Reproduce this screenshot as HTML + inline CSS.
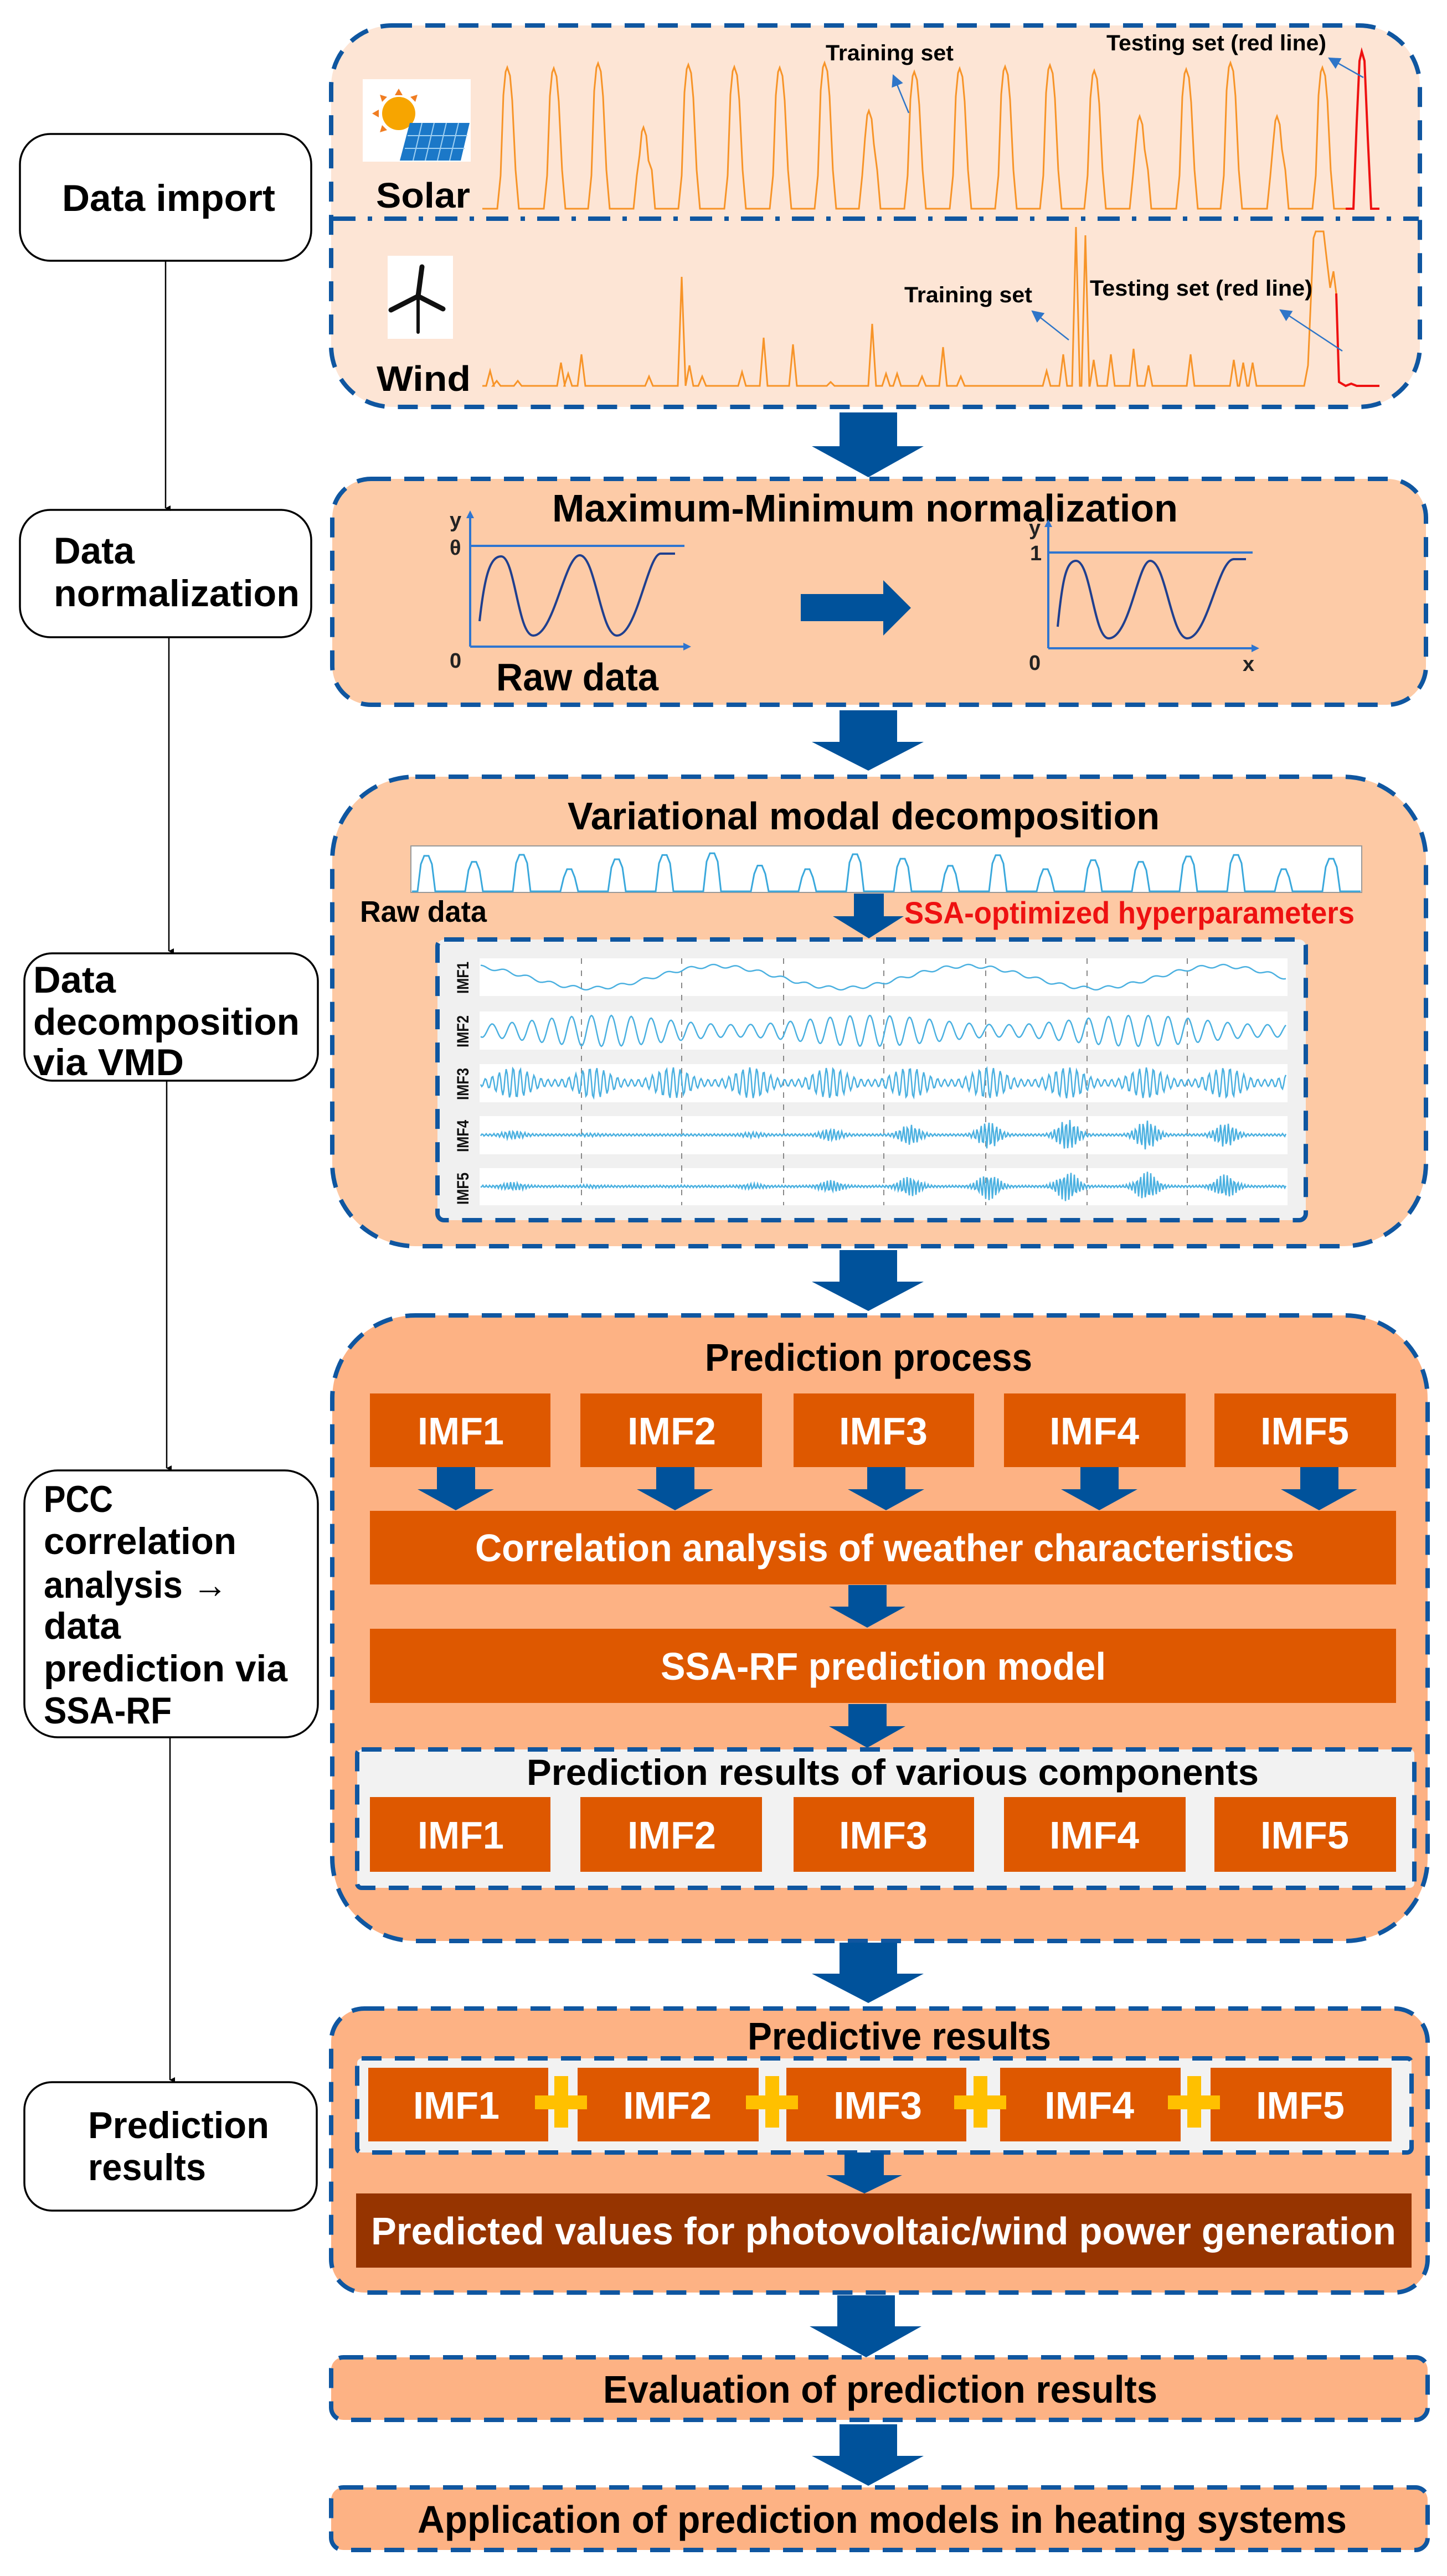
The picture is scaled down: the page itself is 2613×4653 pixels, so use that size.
<!DOCTYPE html>
<html><head><meta charset="utf-8">
<style>
html,body{margin:0;padding:0;background:#fff;}
svg{display:block;}
text{font-family:"Liberation Sans",Arial,sans-serif;font-weight:bold;}
</style></head>
<body>
<svg id="s" xmlns="http://www.w3.org/2000/svg" width="2613" height="4653" viewBox="0 0 2613 4653">
<defs>
<marker id="ah" markerWidth="10" markerHeight="10" refX="5" refY="9" orient="auto" markerUnits="userSpaceOnUse"><path d="M0,0 L10,0 L5,10 Z" fill="#000"/></marker>
<marker id="bh" viewBox="0 0 10 10" markerWidth="22" markerHeight="22" refX="9" refY="5" orient="auto" markerUnits="userSpaceOnUse"><path d="M0,0 L10,5 L0,10 Z" fill="#2e75c8"/></marker>
</defs>
<rect width="2613" height="4653" fill="#fff"/>

<!-- LEFT BOXES -->
<g fill="#fff" stroke="#000" stroke-width="3.5">
<rect x="36" y="242" width="526" height="229" rx="55"/>
<rect x="36" y="921" width="526" height="230" rx="55"/>
<rect x="44" y="1722" width="530" height="230" rx="50"/>
<rect x="44" y="2656" width="530" height="482" rx="60"/>
<rect x="44" y="3761" width="528" height="232" rx="50"/>
</g>
<g stroke="#000" stroke-width="2.5" fill="none" marker-end="url(#ah)">
<line x1="299" y1="471" x2="299" y2="918"/>
<line x1="305" y1="1151" x2="305" y2="1718"/>
<line x1="301" y1="1952" x2="301" y2="2652"/>
<line x1="307" y1="3138" x2="307" y2="3757"/>
</g>
<g font-size="68" fill="#000">
<text x="112" y="381" textLength="385" lengthAdjust="spacingAndGlyphs">Data import</text>
<text x="97" y="1018" textLength="146" lengthAdjust="spacingAndGlyphs">Data</text>
<text x="97" y="1095" textLength="444" lengthAdjust="spacingAndGlyphs">normalization</text>
<text x="60" y="1793" textLength="149" lengthAdjust="spacingAndGlyphs">Data</text>
<text x="60" y="1869" textLength="481" lengthAdjust="spacingAndGlyphs">decomposition</text>
<text x="60" y="1942" textLength="272" lengthAdjust="spacingAndGlyphs">via VMD</text>
<text x="79" y="2731" textLength="125" lengthAdjust="spacingAndGlyphs">PCC</text>
<text x="79" y="2807" textLength="348" lengthAdjust="spacingAndGlyphs">correlation</text>
<text x="79" y="2886" textLength="332" lengthAdjust="spacingAndGlyphs">analysis →</text>
<text x="79" y="2960" textLength="139" lengthAdjust="spacingAndGlyphs">data</text>
<text x="79" y="3037" textLength="440" lengthAdjust="spacingAndGlyphs">prediction via</text>
<text x="79" y="3113" textLength="231" lengthAdjust="spacingAndGlyphs">SSA-RF</text>
<text x="159" y="3862" textLength="327" lengthAdjust="spacingAndGlyphs">Prediction</text>
<text x="159" y="3938" textLength="213" lengthAdjust="spacingAndGlyphs">results</text>
</g>

<!-- BIG CONTAINER BOXES -->
<g stroke="#0f56a0" stroke-width="8" stroke-dasharray="36,24">
<rect x="598" y="46" width="1966" height="689" rx="110" fill="#fde5d5"/>
<rect x="600" y="865" width="1975" height="408" rx="70" fill="#fdcba7"/>
<rect x="600" y="1403" width="1975" height="848" rx="150" fill="#fdc9a4"/>
<rect x="600" y="2376" width="1978" height="1130" rx="150" fill="#fdb284"/>
<rect x="598" y="3628" width="1980" height="513" rx="60" fill="#fdb284"/>
<rect x="598" y="4258" width="1980" height="113" rx="22" fill="#fdb284"/>
<rect x="598" y="4493" width="1980" height="113" rx="22" fill="#fdb284"/>
</g>
<line x1="602" y1="395" x2="2562" y2="395" stroke="#0f56a0" stroke-width="8" stroke-dasharray="40,22,8,22"/>

<!-- BIG ARROWS -->
<g fill="#00529b">
<path d="M1516,745 H1620 V806 H1668 L1568,862 L1466,806 H1516 Z"/>
<path d="M1516,1283 H1620 V1340 H1668 L1568,1392 L1466,1340 H1516 Z"/>
<path d="M1516,2258 H1620 V2315 H1668 L1568,2368 L1466,2315 H1516 Z"/>
<path d="M1516,3509 H1620 V3565 H1668 L1568,3618 L1466,3565 H1516 Z"/>
<path d="M1512,4146 H1616 V4202 H1664 L1564,4258 L1462,4202 H1512 Z"/>
<path d="M1516,4379 H1620 V4436 H1668 L1568,4490 L1466,4436 H1516 Z"/>
</g>

<!-- BOX 1 content -->
<rect x="655" y="143" width="195" height="149" fill="#fff"/>
<g>
<g stroke="#f08020" stroke-width="7" stroke-linecap="round">
<line x1="720" y1="120" x2="720" y2="0" transform="translate(0,0)" opacity="0"/>
</g>
<circle cx="720" cy="205" r="30" fill="#f7a500"/>
<g fill="#f07d22">
<path d="M720,160 l-7,12 h14z"/><path d="M672,205 l12,-7 v14z"/><path d="M686,171 l13,4 l-9,9z"/><path d="M754,171 l-13,4 l9,9z"/><path d="M686,239 l13,-4 l-9,-9z"/>
</g>
<path d="M740,222 L848,222 L832,290 L722,290 Z" fill="#1b78c8"/>
<g stroke="#9fd0f2" stroke-width="2">
<line x1="736" y1="245" x2="844" y2="245"/><line x1="731" y1="268" x2="839" y2="268"/>
<line x1="762" y1="222" x2="746" y2="290"/><line x1="784" y1="222" x2="768" y2="290"/><line x1="806" y1="222" x2="790" y2="290"/><line x1="828" y1="222" x2="812" y2="290"/>
</g>
</g>
<rect x="700" y="462" width="118" height="150" fill="#fff"/>
<g stroke="#111" stroke-linecap="round" fill="none">
<line x1="755" y1="535" x2="755" y2="600" stroke-width="6"/>
<path d="M755,535 L762,482" stroke-width="9"/>
<path d="M755,535 L706,560" stroke-width="9"/>
<path d="M755,535 L800,558" stroke-width="9"/>
</g>
<text x="679" y="375" font-size="64" textLength="170" lengthAdjust="spacingAndGlyphs">Solar</text>
<text x="680" y="706" font-size="64" textLength="170" lengthAdjust="spacingAndGlyphs">Wind</text>
<path id="solar" fill="none" stroke="#f79428" stroke-width="3"/>
<path id="solarR" fill="none" stroke="#ee1111" stroke-width="4"/>
<path id="wind" fill="none" stroke="#f79428" stroke-width="3"/>
<path id="windR" fill="none" stroke="#ee1111" stroke-width="4"/>
<g font-size="40" fill="#000">
<text x="1491" y="109" textLength="231" lengthAdjust="spacingAndGlyphs">Training set</text>
<text x="1998" y="91" textLength="397" lengthAdjust="spacingAndGlyphs">Testing set (red line)</text>
<text x="1633" y="546" textLength="231" lengthAdjust="spacingAndGlyphs">Training set</text>
<text x="1968" y="534" textLength="402" lengthAdjust="spacingAndGlyphs">Testing set (red line)</text>
</g>
<g stroke="#2e75c8" stroke-width="2.5" marker-end="url(#bh)">
<line x1="1641" y1="204" x2="1613" y2="136"/>
<line x1="2462" y1="140" x2="2400" y2="105"/>
<line x1="1930" y1="614" x2="1864" y2="562"/>
<line x1="2424" y1="634" x2="2312" y2="560"/>
</g>

<!-- BOX 2 content -->
<text x="997" y="942" font-size="70" textLength="1130" lengthAdjust="spacingAndGlyphs">Maximum-Minimum normalization</text>
<g stroke="#2e75d0" stroke-width="4" fill="none">
<line x1="849" y1="1168" x2="849" y2="934"/><line x1="849" y1="1168" x2="1236" y2="1168"/>
<line x1="849" y1="986" x2="1236" y2="986"/>
<line x1="1893" y1="1171" x2="1893" y2="950"/><line x1="1893" y1="1171" x2="2262" y2="1171"/>
<line x1="1893" y1="998" x2="2262" y2="998"/>
</g>
<g fill="#2e75d0"><path d="M842,936 L849,922 L856,936Z"/><path d="M1234,1161 L1248,1168 L1234,1175Z"/><path d="M1886,952 L1893,938 L1900,952Z"/><path d="M2260,1164 L2274,1171 L2260,1178Z"/></g>
<g stroke="#1f3f8f" stroke-width="4" fill="none">
<path d="M866,1122 C875,1040 885,1005 905,1005 C930,1005 935,1148 963,1148 C1000,1148 1020,1003 1047,1003 C1075,1003 1085,1148 1114,1148 C1150,1148 1170,1000 1193,1000 L1219,1000"/>
<path d="M1910,1132 C1918,1050 1925,1013 1943,1013 C1970,1013 1975,1153 2002,1153 C2040,1153 2055,1013 2077,1013 C2105,1013 2115,1153 2144,1153 C2180,1153 2200,1010 2228,1010 L2250,1010"/>
</g>
<g font-size="38" fill="#222">
<text x="812" y="952">y</text><text x="812" y="1002">θ</text><text x="812" y="1206">0</text>
<text x="1858" y="966">y</text><text x="1860" y="1012">1</text><text x="1858" y="1210">0</text><text x="2244" y="1212">x</text>
</g>
<text x="896" y="1247" font-size="70" textLength="293" lengthAdjust="spacingAndGlyphs">Raw data</text>
<path d="M1446,1073 H1595 V1048 L1645,1098 L1595,1148 V1122 H1446 Z" fill="#00529b"/>

<!-- BOX 3 content -->
<text x="1025" y="1498" font-size="70" textLength="1069" lengthAdjust="spacingAndGlyphs">Variational modal decomposition</text>
<rect x="742" y="1528" width="1717" height="84" fill="#fff" stroke="#999" stroke-width="2"/>
<path id="raw" fill="none" stroke="#3aa8dc" stroke-width="3"/>
<text x="650" y="1665" font-size="54" textLength="229" lengthAdjust="spacingAndGlyphs">Raw data</text>
<text x="1633" y="1668" font-size="56" fill="#ee1111" textLength="813" lengthAdjust="spacingAndGlyphs">SSA-optimized hyperparameters</text>
<path d="M1542,1614 H1596 V1655 H1632 L1569,1695 L1504,1655 H1542 Z" fill="#00529b"/>
<rect x="790" y="1697" width="1568" height="507" rx="12" fill="#f0f0f0" stroke="#0f56a0" stroke-width="8" stroke-dasharray="36,24"/>
<g fill="#fff">
<rect x="866" y="1731" width="1459" height="68"/>
<rect x="866" y="1827" width="1459" height="69"/>
<rect x="866" y="1922" width="1459" height="69"/>
<rect x="866" y="2016" width="1459" height="69"/>
<rect x="866" y="2110" width="1459" height="67"/>
</g>
<g stroke="#888" stroke-width="2" stroke-dasharray="10,12" id="grid"></g>
<g font-size="30" fill="#111">
<text transform="translate(846,1795) rotate(-90)" textLength="58" lengthAdjust="spacingAndGlyphs">IMF1</text>
<text transform="translate(846,1892) rotate(-90)" textLength="58" lengthAdjust="spacingAndGlyphs">IMF2</text>
<text transform="translate(846,1987) rotate(-90)" textLength="58" lengthAdjust="spacingAndGlyphs">IMF3</text>
<text transform="translate(846,2081) rotate(-90)" textLength="58" lengthAdjust="spacingAndGlyphs">IMF4</text>
<text transform="translate(846,2176) rotate(-90)" textLength="58" lengthAdjust="spacingAndGlyphs">IMF5</text>
</g>
<g fill="none" stroke="#4ab0e0" stroke-width="2.5">
<path id="i1"/><path id="i2"/><path id="i3"/><path id="i4"/><path id="i5"/>
</g>

<!-- BOX 4 content -->
<text x="1273" y="2476" font-size="70" textLength="591" lengthAdjust="spacingAndGlyphs">Prediction process</text>
<g fill="#de5800">
<rect x="668" y="2517" width="326" height="133"/>
<rect x="1048" y="2517" width="328" height="133"/>
<rect x="1433" y="2517" width="326" height="133"/>
<rect x="1813" y="2517" width="328" height="133"/>
<rect x="2193" y="2517" width="328" height="133"/>
<rect x="668" y="2729" width="1853" height="133"/>
<rect x="668" y="2942" width="1853" height="134"/>
</g>
<g fill="#00529b">
<path d="M789,2650 H858 V2690 H892 L823,2728 L754,2690 H789 Z"/>
<path d="M1185,2650 H1254 V2690 H1288 L1219,2728 L1150,2690 H1185 Z"/>
<path d="M1566,2650 H1635 V2690 H1669 L1600,2728 L1531,2690 H1566 Z"/>
<path d="M1951,2650 H2020 V2690 H2054 L1985,2728 L1916,2690 H1951 Z"/>
<path d="M2348,2650 H2417 V2690 H2451 L2382,2728 L2313,2690 H2348 Z"/>
<path d="M1532,2863 H1601 V2902 H1635 L1566,2940 L1497,2902 H1532 Z"/>
<path d="M1532,3078 H1601 V3118 H1635 L1566,3157 L1497,3118 H1532 Z"/>
</g>
<g font-size="70" fill="#fff">
<text x="754" y="2609" textLength="156" lengthAdjust="spacingAndGlyphs">IMF1</text>
<text x="1133" y="2609" textLength="160" lengthAdjust="spacingAndGlyphs">IMF2</text>
<text x="1515" y="2609" textLength="160" lengthAdjust="spacingAndGlyphs">IMF3</text>
<text x="1895" y="2609" textLength="162" lengthAdjust="spacingAndGlyphs">IMF4</text>
<text x="2276" y="2609" textLength="160" lengthAdjust="spacingAndGlyphs">IMF5</text>
<text x="858" y="2820" textLength="1479" lengthAdjust="spacingAndGlyphs">Correlation analysis of weather characteristics</text>
<text x="1193" y="3034" textLength="804" lengthAdjust="spacingAndGlyphs">SSA-RF prediction model</text>
</g>
<rect x="645" y="3160" width="1909" height="250" rx="8" fill="#f2f2f2" stroke="#0f56a0" stroke-width="8" stroke-dasharray="36,24"/>
<text x="951" y="3224" font-size="66" textLength="1322" lengthAdjust="spacingAndGlyphs">Prediction results of various components</text>
<g fill="#de5800">
<rect x="668" y="3246" width="326" height="135"/>
<rect x="1048" y="3246" width="328" height="135"/>
<rect x="1433" y="3246" width="326" height="135"/>
<rect x="1813" y="3246" width="328" height="135"/>
<rect x="2193" y="3246" width="328" height="135"/>
</g>
<g font-size="70" fill="#fff">
<text x="754" y="3339" textLength="156" lengthAdjust="spacingAndGlyphs">IMF1</text>
<text x="1133" y="3339" textLength="160" lengthAdjust="spacingAndGlyphs">IMF2</text>
<text x="1515" y="3339" textLength="160" lengthAdjust="spacingAndGlyphs">IMF3</text>
<text x="1895" y="3339" textLength="162" lengthAdjust="spacingAndGlyphs">IMF4</text>
<text x="2276" y="3339" textLength="160" lengthAdjust="spacingAndGlyphs">IMF5</text>
</g>

<!-- BOX 5 content -->
<text x="1350" y="3702" font-size="70" textLength="548" lengthAdjust="spacingAndGlyphs">Predictive results</text>
<rect x="645" y="3718" width="1904" height="170" rx="8" fill="#f2f2f2" stroke="#0f56a0" stroke-width="8" stroke-dasharray="36,24"/>
<g fill="#de5800">
<rect x="665" y="3735" width="325" height="133"/>
<rect x="1043" y="3735" width="327" height="133"/>
<rect x="1420" y="3735" width="325" height="133"/>
<rect x="1806" y="3735" width="326" height="133"/>
<rect x="2186" y="3735" width="327" height="133"/>
</g>
<g fill="#ffc000">
<rect x="1001" y="3750" width="25" height="93"/><rect x="966" y="3785" width="94" height="25"/>
<rect x="1382" y="3750" width="25" height="93"/><rect x="1347" y="3785" width="94" height="25"/>
<rect x="1758" y="3750" width="25" height="93"/><rect x="1723" y="3785" width="94" height="25"/>
<rect x="2144" y="3750" width="25" height="93"/><rect x="2109" y="3785" width="94" height="25"/>
</g>
<g font-size="70" fill="#fff">
<text x="746" y="3827" textLength="156" lengthAdjust="spacingAndGlyphs">IMF1</text>
<text x="1125" y="3827" textLength="160" lengthAdjust="spacingAndGlyphs">IMF2</text>
<text x="1505" y="3827" textLength="160" lengthAdjust="spacingAndGlyphs">IMF3</text>
<text x="1886" y="3827" textLength="162" lengthAdjust="spacingAndGlyphs">IMF4</text>
<text x="2268" y="3827" textLength="160" lengthAdjust="spacingAndGlyphs">IMF5</text>
</g>
<path d="M1525,3888 H1596 V3929 H1629 L1561,3962 L1492,3929 H1525 Z" fill="#00529b"/>
<rect x="643" y="3962" width="1906" height="134" fill="#963400"/>
<text x="670" y="4054" font-size="70" fill="#fff" textLength="1851" lengthAdjust="spacingAndGlyphs">Predicted values for photovoltaic/wind power generation</text>

<text x="1089" y="4340" font-size="70" textLength="1001" lengthAdjust="spacingAndGlyphs">Evaluation of prediction results</text>
<text x="754" y="4575" font-size="70" textLength="1678" lengthAdjust="spacingAndGlyphs">Application of prediction models in heating systems</text>
</svg>
<script>
(function(){
function $(i){return document.getElementById(i);}
function rnd(seed){var s=seed;return function(){s=(s*9301+49297)%233280;return s/233280;};}
// solar
var peaks=[918,1002,1082,1164,1245,1328,1410,1491,1571,1653,1735,1817,1898,1978,2060,2144,2224,2308,2390];
var tops={1164:230,1571:200,2060:210,2308:210};
var r=rnd(7),B=377,d="M871,"+B;
peaks.forEach(function(x){var t=tops[x]||(112+r()*20);
 d+=" L"+(x-20)+","+B+" L"+(x-14)+","+(B-60)+" L"+(x-9)+","+(t+50)+" L"+(x-5)+","+(t+8)+" L"+(x-2)+","+t+" L"+(x+3)+","+(t+15)+" L"+(x+7)+","+(t+60)+" L"+(x+13)+","+(B-70)+" L"+(x+19)+","+B;});
d+=" L2430,"+B;$("solar").setAttribute("d",d);
$("solarR").setAttribute("d","M2430,377 L2444,377 L2450,220 L2455,110 L2459,93 L2464,110 L2470,250 L2476,377 L2491,377");
// wind
var W=697,sp=[[885,670],[897,688],[935,688],[1013,655],[1026,675],[1050,640],[1172,680],[1231,500],[1245,660],[1268,680],[1340,672],[1379,610],[1432,622],[1500,690],[1575,585],[1600,675],[1620,675],[1665,680],[1703,627],[1735,680],[1890,670],[1920,640],[1943,410],[1960,425],[1975,650],[2006,640],[2047,630],[2074,660],[2150,640],[2228,650],[2245,655],[2262,655]];
d="M871,"+W;sp.forEach(function(p){d+=" L"+(p[0]-7)+","+W+" L"+p[0]+","+p[1]+" L"+(p[0]+7)+","+W;});
d+=" L2355,"+W+" L2362,660 L2372,430 L2376,418 L2390,418 L2396,470 L2402,520 L2408,490 L2413,530";
$("wind").setAttribute("d",d);
$("windR").setAttribute("d","M2413,530 L2418,690 L2430,697 L2440,693 L2450,697 L2491,697");
// raw vmd strip
var rp=[],n=20;d="M744,1610";
for(var i=0;i<n;i++){var x=770+i*86;var t=1540+r()*25;if(i%5==3)t=1570;
 d+=" L"+(x-16)+",1610 L"+(x-10)+","+(t+15)+" L"+(x-4)+","+t+" L"+(x+4)+","+t+" L"+(x+10)+","+(t+15)+" L"+(x+16)+",1610";}
d+=" L2457,1610";$("raw").setAttribute("d",d);
// grid
var g=$("grid"),gx=[1050,1231,1415,1596,1780,1963,2144],ns="http://www.w3.org/2000/svg";
gx.forEach(function(x){var l=document.createElementNS(ns,"line");l.setAttribute("x1",x);l.setAttribute("x2",x);l.setAttribute("y1",1731);l.setAttribute("y2",2177);g.appendChild(l);});
// IMFs
var X0=868,X1=2322;
function sig(id,cy,f){var s="";for(var x=X0;x<=X1;x+=2){var y=cy+f(x);s+=(x==X0?"M":" L")+x+","+y.toFixed(1);}$(id).setAttribute("d",s);}
sig("i1",1765,function(x){var t=(x-X0)/(X1-X0);return 20*Math.cos(t*Math.PI*2*3.2+0.4)*-1+3*Math.sin(x*0.15);});
sig("i2",1862,function(x){return 28*Math.sin(x*0.175)*(0.7+0.3*Math.sin(x*0.013));});
sig("i3",1956,function(x){var e=Math.pow(Math.abs(Math.sin(x*0.022)),3);return (6+22*e)*Math.sin(x*0.5);});
sig("i4",2050,function(x){var e=Math.pow(Math.abs(Math.sin(x*0.022)),8);return (2+26*e*(0.5+0.5*Math.sin(x*0.004)))*Math.sin(x*0.9);});
sig("i5",2143,function(x){var e=Math.pow(Math.abs(Math.sin(x*0.022)),8);return (2+26*e*(0.5+0.5*Math.sin(x*0.004)))*Math.sin(x*1.0);});
})();
</script>
</body></html>
